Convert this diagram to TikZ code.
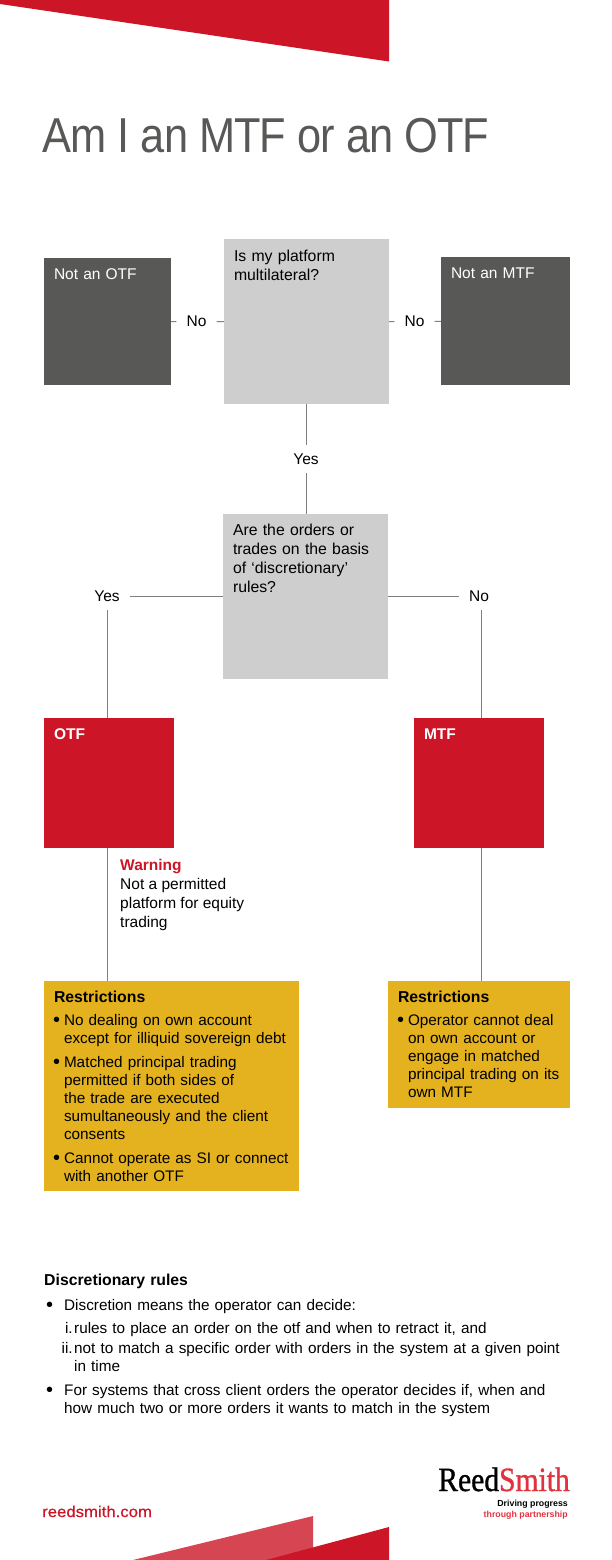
\documentclass[tikz,border=0pt]{standalone}
\usepackage{fontspec}
\setmainfont{Liberation Sans}
\newfontfamily\logofont[FakeStretch=0.87,FakeBold=1]{Liberation Serif}
\newfontfamily\titlefont[FakeStretch=0.885,LetterSpace=-2]{Liberation Sans}
\newfontfamily\sitefont[FakeStretch=1.08,FakeBold=0.6]{Liberation Sans}
\usetikzlibrary{positioning}
\definecolor{rsred}{RGB}{204,21,38}
\definecolor{rspink}{RGB}{214,69,82}
\definecolor{rslogo}{RGB}{226,50,62}
\definecolor{rsamber}{RGB}{227,178,30}
\definecolor{rsdark}{RGB}{88,88,86}
\definecolor{rsgrey}{RGB}{206,206,206}
\definecolor{rsline}{RGB}{128,128,128}
\newcommand{\bigbul}{\raisebox{-1.2pt}{\fontsize{20}{18}\selectfont\textbullet}}
\newcommand{\headtxt}[1]{{\fontsize{15.8}{18}\bfseries\selectfont #1}}
\newcommand{\bulitem}[1]{\par\vspace{5.7pt}\hangindent=10pt\hangafter=1\noindent\hbox to 10pt{\hspace{-1pt}\bigbul\hss}#1\par}
\newcommand{\romitem}[2]{\hangindent=30pt\hangafter=1\noindent\hbox to 30pt{\hss #1\hspace{1.5pt}}#2\par}
\tikzset{
  txt/.style={font=\fontsize{15.5}{18}\selectfont, text=black, inner sep=0pt, align=left},
  boxn/.style={rectangle, txt, inner sep=10pt, text height=11pt},
  dk/.style={boxn, fill=rsdark, text=white},
  qbox/.style={boxn, fill=rsgrey, font=\fontsize{15.8}{19.3}\selectfont},
  rbox/.style={boxn, fill=rsred, text=white, font=\fontsize{15.5}{18}\bfseries\selectfont},
  abox/.style={boxn, fill=rsamber, font=\fontsize{15.3}{18}\selectfont},
  lnk/.style={txt, inner xsep=10pt, inner ysep=8pt},
  conn/.style={draw=rsline, line width=1pt},
}

\begin{document}
\begin{tikzpicture}[x=1pt,y=-1pt]
\useasboundingbox (0,0) rectangle (612,1560);

%% =====================================================================
%% header band and title
%% =====================================================================
\fill[rsred] (0,0) -- (389,0) -- (389,61.5) -- (0,4) -- cycle;
\node[txt, anchor=base west, font=\fontsize{49}{49}\titlefont, text=rsdark] (title) at (42.5,153) {Am I an MTF or an OTF};

%% =====================================================================
%% question boxes and outcomes
%% =====================================================================
\node[dk, text width=107pt, text depth=96pt] (nototf) at (107.5,321.5) {Not an OTF};
\node[qbox, text width=145pt, text height=12pt, text depth=133pt] (platform) at (306.5,321.5) {Is my platform\\multilateral?};
\node[dk, text width=109pt, text depth=97pt] (notmtf) at (505.5,321) {Not an MTF};
\node[qbox, text width=145pt, text depth=134pt] (discr) at (305.5,596.5) {Are the orders or\\trades on the basis\\of `discretionary'\\rules?};
\node[rbox, text width=110pt, text depth=99pt] (otf) at (109,783) {OTF};
\node[rbox, text width=110pt, text depth=99pt] (mtf) at (479,783) {MTF};

%% --- connector labels ---
\node[lnk] (nol) at (196.5,321.5) {No};
\node[lnk] (nor) at (414.5,321.5) {No};
\node[lnk] (yesm) at (306,459) {Yes};
\node[lnk] (yesl) at (107,596.5) {Yes};
\node[lnk] (nod) at (479,596.5) {No};

%% --- warning note ---
\node[txt, anchor=north west, font=\fontsize{15.5}{19}\selectfont] (warning) at (120,859.5)
  {\textcolor{rsred}{\textbf{Warning}}\\Not a permitted\\platform for equity\\trading};

%% --- restrictions ---
\node[abox, text width=235pt, text depth=179pt] (restrl) at (171.5,1086) {\headtxt{Restrictions}
  \bulitem{No dealing on own account\newline except for illiquid sovereign debt}
  \bulitem{Matched principal trading\newline permitted if both sides of\newline the trade are executed\newline sumultaneously and the client\newline consents}
  \bulitem{\mbox{Cannot operate as SI or connect}\newline with another OTF}};
\node[abox, text width=162pt, text depth=96pt] (restrr) at (479,1044.5) {\headtxt{Restrictions}
  \bulitem{Operator cannot deal\newline on own account or\newline engage in matched\newline \mbox{principal trading on its}\newline own MTF}};

%% --- connectors ---
\draw[conn] (nototf) -- (nol) -- (platform) -- (nor) -- (notmtf);
\draw[conn] (yesm.north |- platform.south) -- (yesm.north);
\draw[conn] (yesm.south) -- (yesm.south |- discr.north);
\draw[conn] (yesl) -- (discr);
\draw[conn] (discr) -- (nod);
\draw[conn] (yesl.south) -- (yesl.south |- otf.north);
\draw[conn] ([xshift=2pt]nod.south) -- ([xshift=2pt]mtf.north);
\draw[conn] (yesl.south |- otf.south) -- (yesl.south |- restrl.north);
\draw[conn] ([xshift=2pt]mtf.south) -- ([xshift=2pt]mtf.south |- restrr.north);

%% =====================================================================
%% discretionary rules note
%% =====================================================================
\node[txt, anchor=north west, text width=530pt, font=\fontsize{15.3}{18}\selectfont] (rules) at (44,1274) {\headtxt{Discretionary rules}\par\vspace{7pt}
  \hangindent=20pt\hangafter=1\noindent\hbox to 20pt{\hspace{2pt}\bigbul\hss}Discretion means the operator can decide:\par\vspace{5pt}
  \romitem{i.}{rules to place an order on the otf and when to retract it, and}\vspace{2pt}
  \romitem{ii.}{not to match a specific order with orders in the system at a given point\newline in time}\vspace{6pt}
  \hangindent=20pt\hangafter=1\noindent\hbox to 20pt{\hspace{2pt}\bigbul\hss}For systems that cross client orders the operator decides if, when and\newline how much two or more orders it wants to match in the system\par};

%% =====================================================================
%% footer
%% =====================================================================
\node[txt, anchor=base west, text=rsred, font=\fontsize{15.5}{18}\sitefont] (site) at (42,1517) {reedsmith.com};
\node[txt, anchor=base east, font=\fontsize{34}{34}\logofont] (logo) at (570,1491) {Reed\textcolor{rslogo}{Smith}};
\node[txt, anchor=base east, align=right, font=\fontsize{8.8}{11.5}\bfseries\selectfont] (tagline) at (568,1517.5)
  {Driving progress\\\textcolor{rslogo}{through partnership}};
\fill[rspink] (133,1560) -- (313,1516) -- (313,1560) -- cycle;
\fill[rsred] (266,1560) -- (389,1527) -- (389,1560) -- cycle;

\end{tikzpicture}
\end{document}
